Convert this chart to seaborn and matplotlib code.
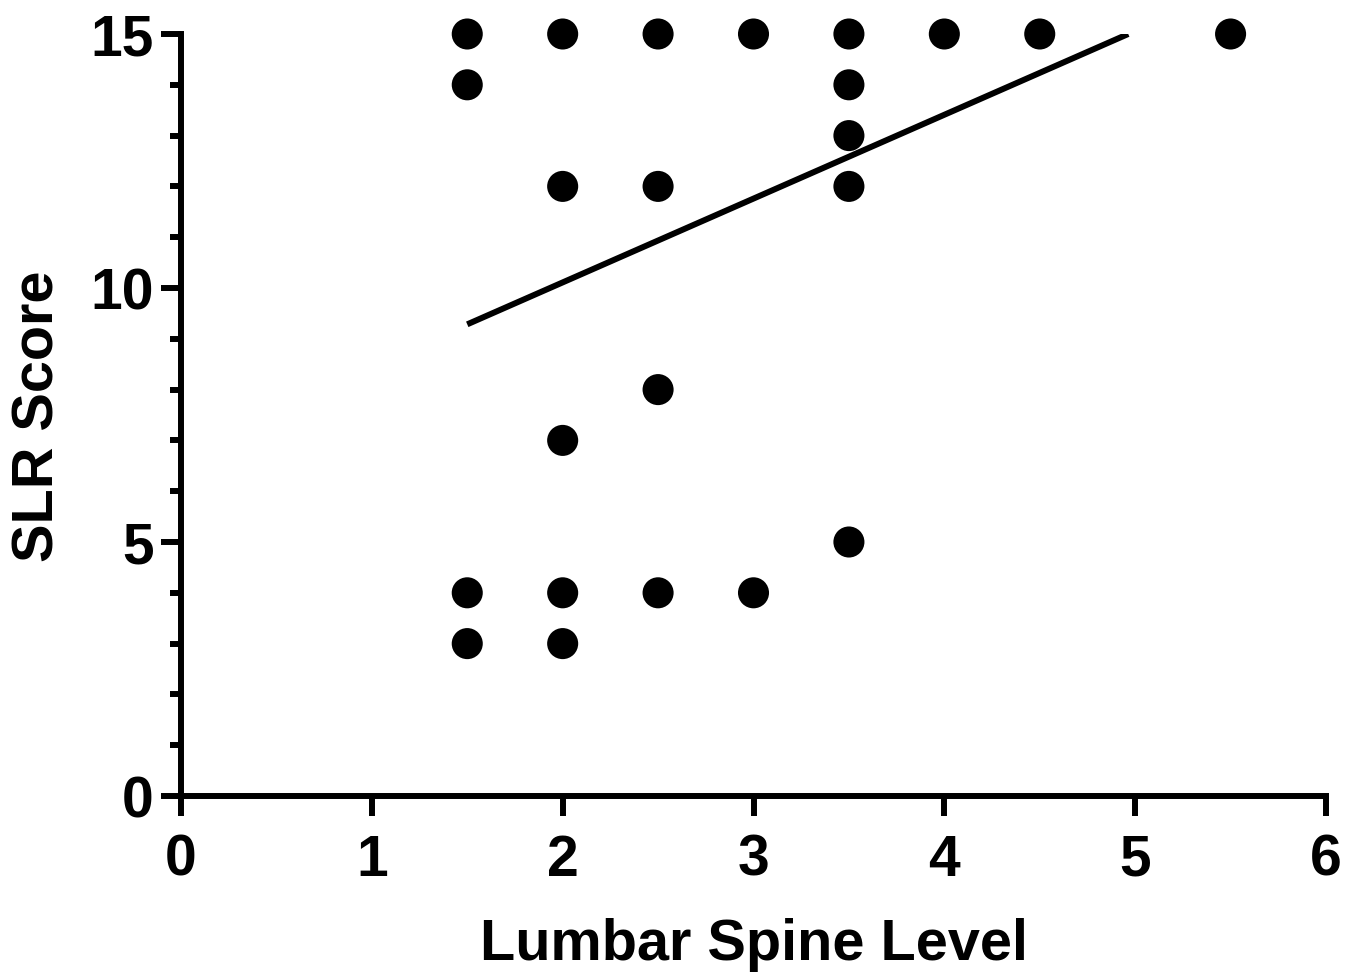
import numpy as np
import pandas as pd
import matplotlib
matplotlib.use("Agg")
import matplotlib.pyplot as plt
from matplotlib.ticker import MultipleLocator
import seaborn as sns

# Observations: lumbar spine level vs. SLR score
spine_level = [1.5, 1.5, 1.5, 1.5,
               2.0, 2.0, 2.0, 2.0, 2.0,
               2.5, 2.5, 2.5, 2.5,
               3.0, 3.0,
               3.5, 3.5, 3.5, 3.5, 3.5,
               4.0, 4.5, 5.5]
slr_score = [15, 14, 4, 3,
             15, 12, 7, 4, 3,
             15, 12, 8, 4,
             15, 4,
             15, 14, 13, 12, 5,
             15, 15, 15]

# Fitted regression line
fit_slope = 1.65
fit_intercept = 6.81
fit_x_start = 1.5

x_ticks = [0, 1, 2, 3, 4, 5, 6]
y_ticks = [0, 5, 10, 15]
x_label = "Lumbar Spine Level"
y_label = "SLR Score"

sns.set_theme(style="ticks")
plt.rcParams["font.family"] = ["Liberation Sans", "DejaVu Sans"]
plt.rcParams["font.weight"] = "bold"

fig = plt.figure(figsize=(13.6, 9.78), dpi=100)
ax = fig.add_axes([181 / 1360, 1 - 797 / 978, (1326 - 181) / 1360, (797 - 35) / 978])

df = pd.DataFrame({"level": spine_level, "score": slr_score})
sns.scatterplot(data=df, x="level", y="score", ax=ax, s=500, color="black",
                edgecolor="none", linewidth=0, clip_on=False, zorder=3)

y_max = y_ticks[-1]
fit_x_end = (y_max - fit_intercept) / fit_slope
fit_x = np.array([fit_x_start, fit_x_end])
fit_df = pd.DataFrame({"level": fit_x, "score": fit_intercept + fit_slope * fit_x})
sns.lineplot(data=fit_df, x="level", y="score", ax=ax, color="black",
             linewidth=4.3, solid_capstyle="butt", zorder=2)

ax.set_xlim(x_ticks[0], x_ticks[-1])
ax.set_ylim(y_ticks[0], y_ticks[-1])
ax.set_xticks(x_ticks)
ax.set_yticks(y_ticks)
ax.yaxis.set_minor_locator(MultipleLocator(1))

sns.despine(ax=ax)
for side in ("left", "bottom"):
    ax.spines[side].set_linewidth(4.3)
    ax.spines[side].set_color("black")
    ax.spines[side].set_capstyle("projecting")

ax.tick_params(axis="both", which="major", length=14.5, width=4.3, color="black",
               labelsize=41, labelcolor="black", direction="out")
ax.tick_params(axis="x", which="major", pad=12)
ax.tick_params(axis="y", which="major", pad=5)
ax.tick_params(axis="y", which="minor", length=8, width=4.3, color="black")
for lbl in ax.get_xticklabels() + ax.get_yticklabels():
    lbl.set_fontweight("bold")

ax.set_xlabel(x_label, fontsize=41.5, fontweight="bold", labelpad=22, color="black")
ax.set_ylabel(y_label, fontsize=41.5, fontweight="bold", labelpad=18, color="black")

fig.savefig("out.png", dpi=100, facecolor="white")
